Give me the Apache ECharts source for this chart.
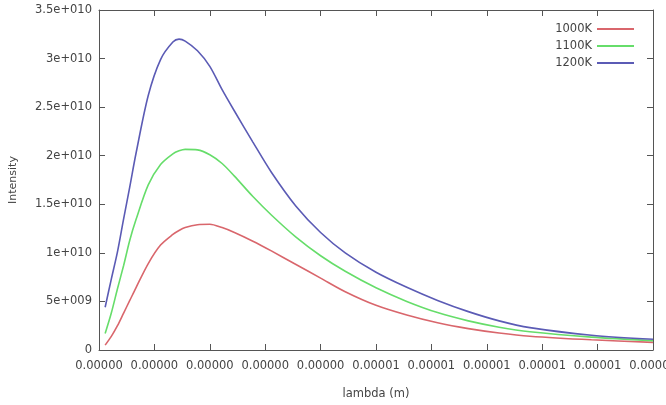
<!DOCTYPE html>
<html>
<head>
<meta charset="utf-8">
<script src="https://cdn.jsdelivr.net/npm/echarts@6/dist/echarts.min.js"></script>
<style>
html,body{margin:0;padding:0;background:#fff;}
#chart{width:666px;height:405px;}
</style>
</head>
<body>
<div id="chart"></div>
<script>
// Wavelength samples (m)
const lambdaM = [1.1e-6, 1.2e-6, 1.3e-6, 1.4e-6, 1.5e-6, 1.6e-6, 1.8e-6, 2.0e-6, 2.2e-6, 2.3e-6, 2.4e-6,
  2.6e-6, 2.8e-6, 3.0e-6, 3.2e-6, 3.5e-6, 3.8e-6, 4.2e-6, 4.6e-6, 5.0e-6, 5.5e-6, 6.0e-6, 6.5e-6,
  7.0e-6, 7.5e-6, 8.0e-6, 9.0e-6, 10.0e-6];
// Intensity
const intensity1000K = [0.05e10, 0.14e10, 0.25e10, 0.38e10, 0.51e10, 0.64e10, 0.89e10, 1.08e10, 1.19e10, 1.23e10, 1.26e10,
  1.29e10, 1.295e10, 1.26e10, 1.21e10, 1.12e10, 1.02e10, 0.88e10, 0.74e10, 0.60e10, 0.46e10, 0.36e10, 0.28e10,
  0.22e10, 0.175e10, 0.142e10, 0.105e10, 0.079e10];
const intensity1100K = [0.17e10, 0.38e10, 0.63e10, 0.87e10, 1.13e10, 1.34e10, 1.70e10, 1.91e10, 2.02e10, 2.05e10, 2.065e10,
  2.06e10, 2.01e10, 1.92e10, 1.79e10, 1.58e10, 1.39e10, 1.162e10, 0.97e10, 0.81e10, 0.64e10, 0.50e10, 0.385e10,
  0.30e10, 0.235e10, 0.188e10, 0.133e10, 0.096e10];
const intensity1200K = [0.44e10, 0.73e10, 1.01e10, 1.35e10, 1.68e10, 2.02e10, 2.62e10, 2.99e10, 3.17e10, 3.20e10, 3.18e10,
  3.08e10, 2.92e10, 2.68e10, 2.46e10, 2.14e10, 1.83e10, 1.48e10, 1.21e10, 1.00e10, 0.80e10, 0.645e10, 0.51e10,
  0.395e10, 0.30e10, 0.23e10, 0.152e10, 0.11e10];
const seriesNames = ['1000K', '1100K', '1200K'];
const seriesColors = ['#d9666c', '#66dd6a', '#5b5bb5'];
const xMin = 1e-6, xMax = 1e-5, xStep = 9e-7;
const yMin = 0, yMax = 3.5e10, yStep = 5e9;

function fmtY(v) {
  if (v === 0) return '0';
  const e = Math.floor(Math.log10(v) + 1e-9);
  let m = v / Math.pow(10, e);
  m = Math.round(m * 100) / 100;
  const es = String(Math.abs(e)).padStart(3, '0');
  return m + 'e' + (e >= 0 ? '+' : '-') + es;
}
function fmtX(v) { return v.toFixed(5); }

const font = 'DejaVu Sans';
const txt = '#444';
const axisCol = '#555';

const chart = echarts.init(document.getElementById('chart'), null, {renderer: 'canvas'});
const seriesData = [intensity1000K, intensity1100K, intensity1200K];

const commonX = {
  type: 'value', min: xMin, max: xMax, interval: xStep,
  axisLine: {show: true, onZero: false, lineStyle: {color: axisCol, width: 1}},
  axisTick: {show: true, inside: true, length: 6, lineStyle: {color: axisCol}},
  splitLine: {show: false}
};
const commonY = {
  type: 'value', min: yMin, max: yMax, interval: yStep,
  axisLine: {show: true, onZero: false, lineStyle: {color: axisCol, width: 1}},
  axisTick: {show: true, inside: true, length: 6, lineStyle: {color: axisCol}},
  splitLine: {show: false}
};

chart.setOption({
  animation: false,
  backgroundColor: '#fff',
  grid: {left: 99, right: 13, top: 10, bottom: 55, containLabel: false, outerBoundsMode: 'none'},
  legend: {
    right: 27, top: 17, orient: 'vertical', align: 'right',
    itemWidth: 37, itemHeight: 2, itemGap: 3, icon: 'rect',
    textStyle: {fontFamily: font, fontSize: 11.5, color: txt, lineHeight: 14},
    data: seriesNames
  },
  xAxis: [
    Object.assign({}, commonX, {
      position: 'bottom',
      name: 'lambda (m)', nameLocation: 'middle', nameGap: 38,
      nameTextStyle: {fontFamily: font, fontSize: 11.5, color: txt},
      axisLabel: {show: true, formatter: fmtX, margin: 10, fontFamily: font, fontSize: 11.5, color: txt,
        showMinLabel: true, showMaxLabel: true, hideOverlap: false}
    }),
    Object.assign({}, commonX, {position: 'top', axisLabel: {show: false}})
  ],
  yAxis: [
    Object.assign({}, commonY, {
      position: 'left',
      name: 'Intensity', nameLocation: 'middle', nameGap: 80,
      nameTextStyle: {fontFamily: font, fontSize: 11, color: txt},
      axisLabel: {show: true, formatter: fmtY, margin: 7, fontFamily: font, fontSize: 11.5, color: txt}
    }),
    Object.assign({}, commonY, {position: 'right', axisLabel: {show: false}})
  ],
  series: seriesNames.map((n, i) => ({
    name: n, type: 'line', xAxisIndex: 0, yAxisIndex: 0,
    data: lambdaM.map((x, k) => [x, seriesData[i][k]]),
    showSymbol: false, smooth: 0.3,
    lineStyle: {color: seriesColors[i], width: 1.6},
    itemStyle: {color: seriesColors[i]}
  }))
});
</script>
</body>
</html>
